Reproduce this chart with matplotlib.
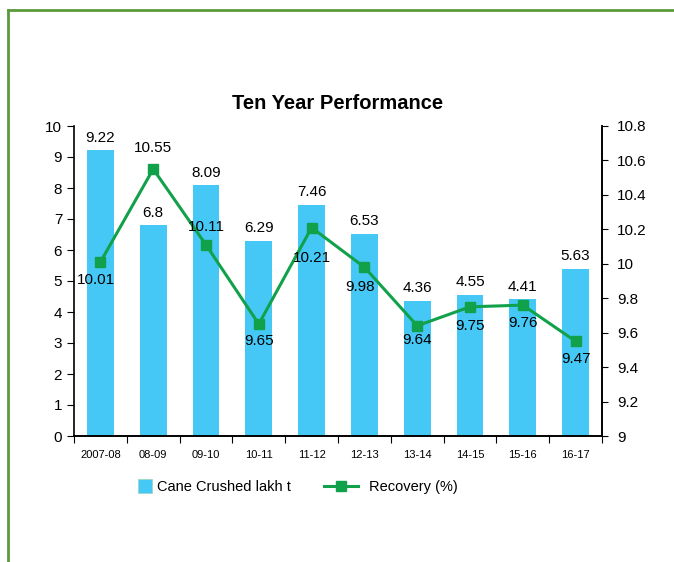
import matplotlib.pyplot as plt
from matplotlib.lines import Line2D
from matplotlib.patches import Rectangle
from matplotlib.legend_handler import HandlerPatch
from matplotlib.ticker import FuncFormatter

plt.rcParams['font.family'] = ['Liberation Sans', 'DejaVu Sans']

# Data
years = ['2007-08', '08-09', '09-10', '10-11', '11-12', '12-13', '13-14', '14-15', '15-16', '16-17']
cane_crushed = [9.22, 6.8, 8.09, 6.29, 7.46, 6.53, 4.36, 4.55, 4.41, 5.4]
cane_labels = ['9.22', '6.8', '8.09', '6.29', '7.46', '6.53', '4.36', '4.55', '4.41', '5.63']
recovery = [10.01, 10.55, 10.11, 9.65, 10.21, 9.98, 9.64, 9.75, 9.76, 9.55]
recovery_labels = ['10.01', '10.55', '10.11', '9.65', '10.21', '9.98', '9.64', '9.75', '9.76', '9.47']

bar_color = '#45C8F5'
line_color = '#12A14B'

fig = plt.figure(figsize=(6.74, 5.62), dpi=100)
ax = fig.add_axes([74 / 674, 1 - 436 / 562, 528 / 674, 310 / 562])
ax2 = ax.twinx()

x = list(range(len(years)))
bars = ax.bar(x, cane_crushed, width=0.51, color=bar_color, zorder=1)
for xi, v, lab in zip(x, cane_crushed, cane_labels):
    ax.annotate(lab, (xi, v), xytext=(0, 4), textcoords='offset points',
                ha='center', va='bottom', fontsize=11)

line, = ax2.plot(x, recovery, color=line_color, lw=2.2, marker='s', ms=6.5,
                 label='Recovery (%)', zorder=3)
# label offsets (points) for recovery values
rec_offsets = [(-3, -13), (0, 15), (0, 13), (0, -12), (0, -22), (-3, -14),
               (0, -10), (0, -14), (0, -13), (0, -13)]
for xi, v, lab, off in zip(x, recovery, recovery_labels, rec_offsets):
    ax2.annotate(lab, (xi, v), xytext=off, textcoords='offset points',
                 ha='center', va='center', fontsize=11)

ax.set_xlim(-0.5, len(years) - 0.5)
ax.set_ylim(0, 10)
ax.set_yticks(range(0, 11))
ax2.set_ylim(9, 10.8)
ax2.set_yticks([9, 9.2, 9.4, 9.6, 9.8, 10, 10.2, 10.4, 10.6, 10.8])
ax2.yaxis.set_major_formatter(FuncFormatter(lambda v, p: f'{v:g}'))

ax.set_xticks([i - 0.5 for i in range(len(years) + 1)])
ax.set_xticklabels([])
ax.set_xticks(x, minor=True)
ax.set_xticklabels(years, minor=True, fontsize=8)
ax.tick_params(axis='x', which='minor', length=0, pad=10)
ax.tick_params(axis='x', which='major', length=5, direction='out')
ax.tick_params(axis='y', labelsize=11, length=5)
ax2.tick_params(axis='y', labelsize=11, length=4, pad=7)

for a in (ax, ax2):
    a.spines['top'].set_visible(False)
    for s in a.spines.values():
        s.set_linewidth(1.2)
ax2.spines['left'].set_visible(False)

ax.set_title('Ten Year Performance', fontsize=14.5, fontweight='bold', pad=12)


def square_patch(legend, orig_handle, xdescent, ydescent, width, height, fontsize):
    sq = 1.3 * height
    return Rectangle((width - sq + 4 - xdescent, (height - sq) / 2 - ydescent), sq, sq)


bar_proxy = Rectangle((0, 0), 1, 1, facecolor=bar_color, edgecolor='#9ad8c8', lw=0.6)
fig.legend([bar_proxy, line], ['Cane Crushed lakh t', 'Recovery (%)'], loc='center',
           bbox_to_anchor=(285 / 674, 1 - 487 / 562), ncol=2, frameon=False,
           fontsize=10.5, handlelength=2.3, columnspacing=2.3, handletextpad=0.75,
           handler_map={Rectangle: HandlerPatch(patch_func=square_patch)})

# green border lines
border = '#5B9B3A'
fig.add_artist(Line2D([8 / 674, 1], [1 - 10 / 562, 1 - 10 / 562], color=border, lw=2,
                      transform=fig.transFigure))
fig.add_artist(Line2D([8 / 674, 8 / 674], [0, 1 - 10 / 562], color=border, lw=2,
                      transform=fig.transFigure))

fig.savefig('out.png', dpi=100)
